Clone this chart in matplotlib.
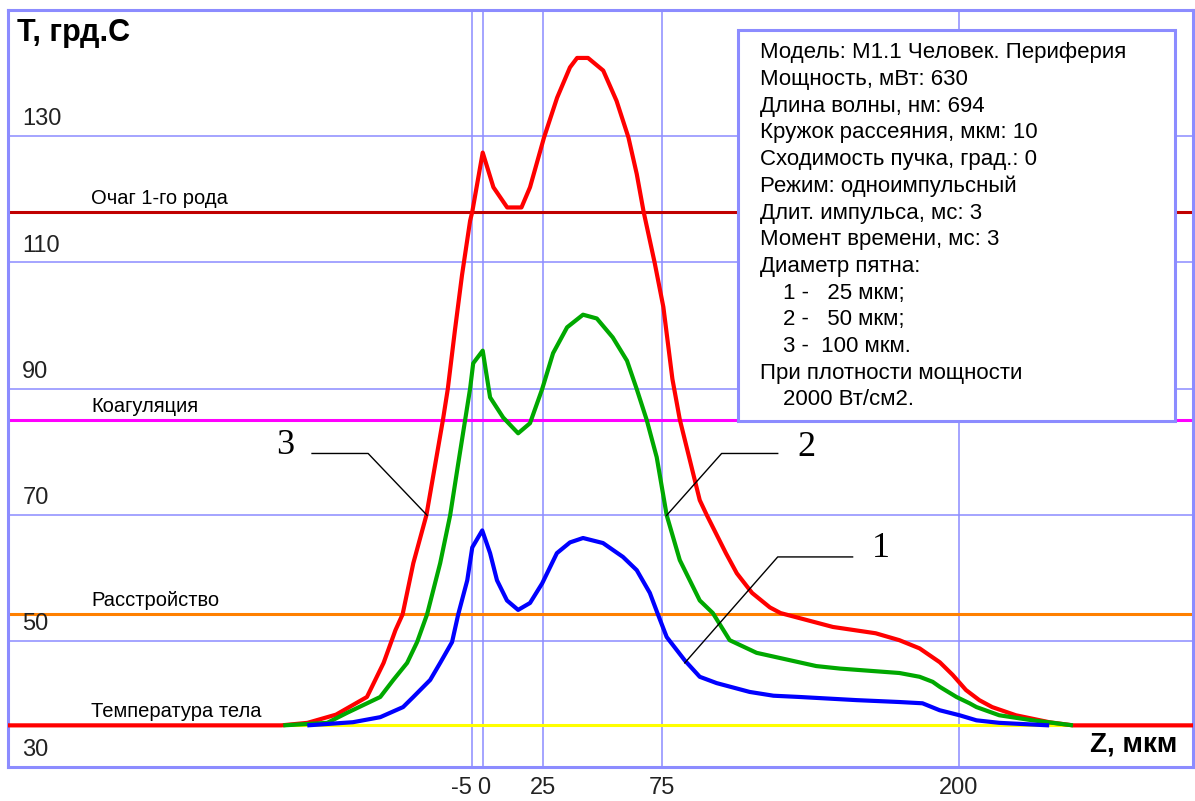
import matplotlib
matplotlib.use('Agg')
import matplotlib.pyplot as plt
from matplotlib.patches import Rectangle

plt.rcParams['font.family'] = ['Liberation Sans', 'DejaVu Sans']
plt.rcParams['axes.unicode_minus'] = False

# temperature profiles along Z (mkm)
red_z = [-200, -85, -74, -62, -49, -42, -37, -34, -29.5, -24, -17, -15, -12, -9, -5.6, -4.7, -0.3, 4.2, 10, 16,
         19.6, 25.5, 31, 36.4, 39.4, 44, 50.4, 56, 61, 64.5, 67.4, 72, 75.7, 79.5, 82.6, 91, 94, 102, 106.6, 113,
         120.5, 125, 147, 165, 175, 183.5, 192, 197.4, 203, 208.6, 214, 224, 238, 248, 298.5]
red_t = [36.6, 36.6, 37.0, 38.3, 41.1, 46.5, 51.7, 54.2, 62.3, 69.9, 85.1, 89.9, 99.2, 108, 116.6, 118.0, 127.4,
         121.9, 118.7, 118.7, 121.9, 129.8, 136.1, 140.9, 142.4, 142.4, 140.4, 135.6, 129.8, 124.0, 118.0, 110.0,
         102.9, 91.5, 85.1, 72.3, 69.9, 63.9, 60.7, 57.6, 55.3, 54.4, 52.2, 51.2, 50.1, 48.8, 46.6, 44.6, 42.2,
         40.6, 39.5, 38.2, 37.1, 36.6, 36.6]

green_z = [-84.2, -65.7, -57.3, -43.4, -37.9, -32.1, -27.9, -23.7, -18.2, -14.0, -10.6, -7.7, -5.6, -4.3, -0.3,
           2.8, 8.3, 14.6, 19.6, 24.7, 29.3, 35.2, 41.9, 47.7, 54.4, 60.4, 64.5, 68.7, 72.9, 77.1, 82.6, 91, 96.5,
           103.6, 114.9, 140, 150, 175, 183.5, 189, 192, 199, 204.5, 207.4, 217, 231, 248]
green_t = [36.6, 37.0, 38.6, 41.1, 43.8, 46.5, 49.8, 54.2, 62.3, 69.9, 78.1, 85.0, 90.0, 94.0, 96.0, 88.6, 85.4,
           82.9, 84.5, 89.9, 95.6, 99.7, 101.7, 101.1, 98.1, 94.4, 89.9, 85.0, 79.1, 69.9, 62.8, 56.4, 54.4, 50.1,
           48.1, 46.0, 45.6, 44.9, 44.3, 43.5, 42.7, 41.1, 40.1, 39.5, 38.2, 37.4, 36.6]

blue_z = [-74.1, -54.9, -43.4, -33.8, -29.5, -22.4, -18.2, -13.2, -10.6, -6.8, -4.7, -0.5, 2.8, 5.7, 9.9, 14.6,
          19.6, 24.7, 30.9, 36.4, 41.9, 50.3, 58.7, 64.5, 70, 73.4, 77.1, 84.7, 91, 98.1, 112, 122, 133, 157, 175,
          184.7, 191.9, 200.3, 207.4, 217, 238]
blue_t = [36.6, 37.1, 37.9, 39.5, 41.1, 43.8, 46.5, 49.8, 54.2, 59.6, 64.8, 67.5, 63.9, 59.6, 56.4, 54.9, 56.0,
          59.1, 63.9, 65.6, 66.3, 65.5, 63.3, 61.2, 57.6, 54.2, 50.6, 46.9, 44.3, 43.3, 41.9, 41.3, 41.1, 40.6,
          40.3, 40.1, 39.0, 38.2, 37.4, 37.0, 36.6]

# threshold levels
level_names = ['Очаг 1-го рода', 'Коагуляция', 'Расстройство', 'Температура тела']
level_values = [118, 85, 54.2, 36.6]
level_colors = ['#c00000', '#ff00ff', '#ff8000', '#ffff00']

x_ticks = [-5, 0, 25, 75, 200]
y_labels = [30, 50, 70, 90, 110, 130]

info_lines = ['Модель: М1.1 Человек. Периферия',
              'Мощность, мВт: 630',
              'Длина волны, нм: 694',
              'Кружок рассеяния, мкм: 10',
              'Сходимость пучка, град.: 0',
              'Режим: одноимпульсный',
              'Длит. импульса, мс: 3',
              'Момент времени, мс: 3',
              'Диаметр пятна:',
              '1 -   25 мкм;',
              '2 -   50 мкм;',
              '3 -  100 мкм.',
              'При плотности мощности',
              '2000 Вт/см2.']
info_indent = [0, 0, 0, 0, 0, 0, 0, 0, 0, 1, 1, 1, 0, 1]

GRID = '#8c8cff'

fig = plt.figure(figsize=(11.95, 8.01), dpi=100)
ax = fig.add_axes([8 / 1195, 1 - 767 / 801, 1185 / 1195, 757 / 801])
ax.set_xlim(-200, 298.5)
ax.set_ylim(30, 150)

ax.set_xticks(x_ticks)
ax.set_yticks([50, 70, 90, 110, 130])
ax.grid(True, color=GRID, lw=1.1, zorder=0)
ax.set_axisbelow(True)
ax.tick_params(length=0, labelleft=False)
ax.tick_params(axis='x', pad=7, labelsize=17, labelcolor='#222222')
xl = ax.get_xticklabels()
xl[0].set_ha('right')
for s in ax.spines.values():
    s.set_color(GRID)
    s.set_linewidth(2.2)

for yv in y_labels:
    ax.text(-194, yv + 1.7, str(yv), fontsize=17, color='#222222', va='baseline', ha='left')

for name, val, col in zip(level_names, level_values, level_colors):
    ax.axhline(val, color=col, lw=2.2, zorder=1)
    ax.text(-165, val + 1.3, name, fontsize=14.5, va='baseline', ha='left', zorder=6)

for z, t, col, zo in [(red_z, red_t, '#ff0000', 3), (green_z, green_t, '#00a800', 3.1),
                      (blue_z, blue_t, '#0000ff', 3.2)]:
    ax.plot(z, t, color=col, lw=3, zorder=zo, solid_joinstyle='round', solid_capstyle='butt')

# curve callouts
ax.plot([-72.1, -48.5, -23.7], [79.7, 79.7, 69.9], color='black', lw=1, zorder=4)
ax.text(-83.3, 81.0, '3', family='Liberation Serif', fontsize=26, ha='center', va='center')
ax.plot([123.8, 100.2, 77.1], [79.7, 79.7, 69.9], color='black', lw=1, zorder=4)
ax.text(136, 80.7, '2', family='Liberation Serif', fontsize=26, ha='center', va='center')
ax.plot([155.3, 123.8, 84.7], [63.3, 63.3, 46.5], color='black', lw=1, zorder=4)
ax.text(167, 64.6, '1', family='Liberation Serif', fontsize=26, ha='center', va='center')

# info box
ax.add_patch(Rectangle((107.1, 84.85), 183.9, 61.95, facecolor='white', edgecolor=GRID, lw=2.2, zorder=5))
for i, (line, ind) in enumerate(zip(info_lines, info_indent)):
    ax.text(116.4 + ind * 9.6, 143.2 - i * 4.23, line, fontsize=16, va='center', ha='left', zorder=6)

ax.text(-196.2, 146.4, 'T, грд.С', fontsize=22, weight='bold', va='center', ha='left')
ax.text(291.9, 33.6, 'Z, мкм', fontsize=20, weight='bold', va='center', ha='right')

fig.savefig('out.png', dpi=100)
